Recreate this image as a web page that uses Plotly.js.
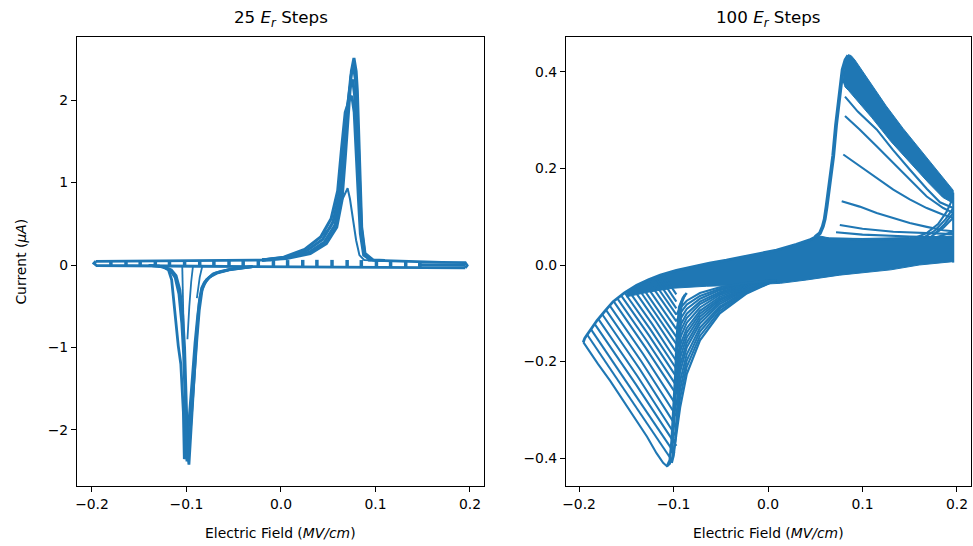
<!DOCTYPE html>
<html>
<head>
<meta charset="utf-8">
<script src="https://cdn.plot.ly/plotly-3.0.1.min.js"></script>
<style>html,body{margin:0;padding:0;background:#fff;}#chart{width:973px;height:546px;}</style>
</head>
<body>
<div id="chart"></div>
<script>
// ---------- LEFT PANEL (25 E_r steps) ----------
const lTicksX = [-0.2, -0.1, 0.0, 0.1, 0.2];
const lTicksY = [-2, -1, 0, 1, 2];
// forward-sweep baseline (top of band)
const lBaseTopX = [-0.196, -0.16, -0.12, -0.08, -0.04, -0.01];
const lBaseTopY = [0.045, 0.047, 0.049, 0.051, 0.054, 0.060];
// baseline after the oxidation peak, with right end cap
const lPostX = [0.092, 0.11, 0.13, 0.15, 0.17, 0.195, 0.197, 0.195];
const lPostY = [0.060, 0.052, 0.045, 0.038, 0.032, 0.028, -0.005, -0.035];
// reverse-sweep baseline (bottom of band) incl. rounded left end
const lBaseBotX = [0.195, 0.17, 0.15, 0.12, 0.09, 0.06, 0.03, 0.0, -0.03, -0.06, -0.09, -0.12, -0.15, -0.18, -0.195, -0.198, -0.196];
const lBaseBotY = [-0.035, -0.034, -0.032, -0.030, -0.028, -0.026, -0.024, -0.022, -0.020, -0.018, -0.015, -0.012, -0.010, -0.008, -0.006, 0.020, 0.045];
// band is solid near right end
const lBandMidX = [0.145, 0.195];
const lBandMidY = [0.002, -0.004];
// reversal (E_r) separators in the band
const lSepX = [-0.180, -0.164, -0.149, -0.133, -0.118, -0.102, -0.086, -0.071, -0.055, -0.040, -0.024, -0.008, 0.007, 0.023, 0.038, 0.054, 0.070, 0.085, 0.101, 0.116, 0.132, 0.147];
const lSepTopY = [0.046, 0.047, 0.048, 0.049, 0.049, 0.050, 0.050, 0.051, 0.051, 0.053, 0.055, 0.058, 0.060, 0.062, 0.063, 0.062, 0.061, 0.060, 0.054, 0.050, 0.046, 0.040];
const lSepBotY = [-0.008, -0.009, -0.010, -0.011, -0.012, -0.014, -0.015, -0.017, -0.018, -0.019, -0.020, -0.021, -0.022, -0.023, -0.024, -0.025, -0.026, -0.027, -0.028, -0.029, -0.030, -0.031];
// oxidation peaks
const lPeakX = [
  [-0.020, 0.006, 0.031, 0.048, 0.059, 0.0645, 0.068, 0.0715, 0.0745, 0.0772, 0.0795, 0.0808, 0.0825, 0.0836, 0.0854, 0.0889, 0.0977, 0.110],
  [-0.020, 0.005, 0.029, 0.046, 0.057, 0.063, 0.0668, 0.0705, 0.0738, 0.0765, 0.0788, 0.0800, 0.0818, 0.0830, 0.0850, 0.0885, 0.096],
  [-0.020, 0.004, 0.027, 0.044, 0.055, 0.0615, 0.0655, 0.0695, 0.0730, 0.0758, 0.0780, 0.0795, 0.0810, 0.0825, 0.0845, 0.0880, 0.095],
  [-0.020, 0.003, 0.025, 0.042, 0.053, 0.060, 0.064, 0.068, 0.0722, 0.0750, 0.0775, 0.0790, 0.0805, 0.0820, 0.0840, 0.0875, 0.095],
  [0.040, 0.052, 0.061, 0.068, 0.0705, 0.073, 0.076, 0.0795, 0.083, 0.088, 0.110]
];
const lPeakY = [
  [0.060, 0.080, 0.140, 0.260, 0.460, 0.780, 1.300, 1.910, 2.350, 2.510, 2.350, 2.110, 1.600, 1.100, 0.460, 0.140, 0.060, 0.055],
  [0.060, 0.085, 0.150, 0.280, 0.480, 0.800, 1.300, 1.900, 2.280, 2.420, 2.250, 2.000, 1.500, 1.050, 0.450, 0.140, 0.060],
  [0.060, 0.090, 0.170, 0.310, 0.520, 0.850, 1.350, 1.850, 2.150, 2.250, 2.050, 1.800, 1.350, 0.950, 0.420, 0.130, 0.060],
  [0.060, 0.095, 0.190, 0.340, 0.560, 0.900, 1.400, 1.850, 2.000, 2.050, 1.850, 1.550, 1.150, 0.800, 0.380, 0.120, 0.060],
  [0.320, 0.450, 0.700, 0.880, 0.930, 0.800, 0.550, 0.300, 0.120, 0.060, 0.055]
];
// reduction peaks
const lValleyX = [
  [-0.030, -0.050, -0.0645, -0.072, -0.077, -0.081, -0.084, -0.0865, -0.089, -0.091, -0.093, -0.0945, -0.0962, -0.0974, -0.0985, -0.0995, -0.1005, -0.102, -0.104, -0.107, -0.111, -0.116, -0.125, -0.140],
  [-0.030, -0.055, -0.068, -0.076, -0.082, -0.0855, -0.088, -0.091, -0.094, -0.097, -0.0995, -0.1012, -0.1023, -0.1033, -0.105, -0.106, -0.1087, -0.112, -0.1157, -0.119, -0.125, -0.140],
  [-0.030, -0.055, -0.070, -0.079, -0.0835, -0.0865, -0.089, -0.092, -0.095, -0.0975, -0.0995, -0.1005, -0.1015, -0.103, -0.105, -0.108, -0.112, -0.118, -0.130],
  [-0.1045, -0.104, -0.1035, -0.103],
  [-0.093, -0.095, -0.097, -0.099],
  [-0.083, -0.086, -0.089]
];
const lValleyY = [
  [-0.020, -0.045, -0.080, -0.110, -0.160, -0.210, -0.280, -0.450, -0.800, -1.180, -1.600, -1.990, -2.300, -2.420, -2.300, -1.950, -1.550, -1.000, -0.600, -0.300, -0.130, -0.060, -0.020, -0.005],
  [-0.020, -0.060, -0.100, -0.150, -0.240, -0.380, -0.600, -0.950, -1.400, -1.850, -2.200, -2.320, -2.350, -1.780, -1.350, -1.200, -0.980, -0.580, -0.180, -0.060, -0.020, -0.005],
  [-0.020, -0.055, -0.100, -0.180, -0.300, -0.550, -0.900, -1.400, -1.900, -2.250, -2.380, -2.100, -1.600, -1.100, -0.700, -0.350, -0.150, -0.050, -0.010],
  [0.000, -0.200, -0.500, -0.800],
  [0.000, -0.200, -0.500, -0.900],
  [0.000, -0.150, -0.400]
];

// ---------- RIGHT PANEL (100 E_r steps) ----------
const rTicksX = [-0.2, -0.1, 0.0, 0.1, 0.2];
const rTicksY = [-0.4, -0.2, 0.0, 0.2, 0.4];
// forward sweep envelope from the leftmost reversal
const rTopX = [-0.1955, -0.194, -0.192, -0.189, -0.186, -0.181, -0.172, -0.164, -0.152, -0.139, -0.126, -0.114, -0.097, -0.079, -0.062, -0.044, -0.020, 0.009, 0.030, 0.044, 0.050, 0.055];
const rTopY = [-0.160, -0.152, -0.146, -0.137, -0.129, -0.115, -0.094, -0.076, -0.058, -0.042, -0.030, -0.021, -0.011, -0.003, 0.004, 0.010, 0.019, 0.031, 0.043, 0.052, 0.058, 0.066];
// steep rise to the oxidation peak
const rRiseX = [0.050, 0.055, 0.058, 0.060, 0.062, 0.066, 0.069, 0.072, 0.076, 0.079, 0.082, 0.085];
const rRiseY = [0.058, 0.066, 0.080, 0.095, 0.121, 0.175, 0.226, 0.290, 0.365, 0.405, 0.425, 0.434];
// reduction tails (one per reversal field)
const rTailX = [
  [-0.1955, -0.190, -0.180, -0.167, -0.153, -0.139, -0.128, -0.118, -0.111, -0.107, -0.104, -0.102],
  [-0.1915, -0.147, -0.103], [-0.1875, -0.143, -0.099], [-0.1835, -0.140, -0.097], [-0.1795, -0.138, -0.097],
  [-0.1755, -0.136, -0.097], [-0.1715, -0.134, -0.097], [-0.1675, -0.132, -0.097], [-0.1635, -0.130, -0.097],
  [-0.1595, -0.128, -0.097], [-0.1555, -0.126, -0.097], [-0.1515, -0.124, -0.097], [-0.1475, -0.122, -0.097],
  [-0.1435, -0.120, -0.097], [-0.1395, -0.118, -0.097], [-0.1355, -0.116, -0.097], [-0.1315, -0.114, -0.097],
  [-0.1275, -0.112, -0.097], [-0.1235, -0.110, -0.097], [-0.1195, -0.108, -0.097], [-0.1155, -0.106, -0.097],
  [-0.1115, -0.104, -0.097]
];
const rTailY = [
  [-0.160, -0.176, -0.205, -0.240, -0.282, -0.323, -0.356, -0.390, -0.410, -0.417, -0.412, -0.400],
  [-0.144, -0.272, -0.401], [-0.133, -0.261, -0.390], [-0.122, -0.247, -0.375], [-0.112, -0.231, -0.356],
  [-0.102, -0.215, -0.335], [-0.093, -0.200, -0.313], [-0.084, -0.185, -0.291], [-0.075, -0.170, -0.268],
  [-0.069, -0.158, -0.250], [-0.063, -0.146, -0.232], [-0.058, -0.135, -0.215], [-0.053, -0.124, -0.199],
  [-0.047, -0.113, -0.181], [-0.042, -0.103, -0.164], [-0.039, -0.095, -0.149], [-0.035, -0.086, -0.133],
  [-0.031, -0.076, -0.117], [-0.028, -0.067, -0.103], [-0.025, -0.058, -0.090], [-0.022, -0.049, -0.076],
  [-0.019, -0.040, -0.061]
];
// reverse-sweep approaches to the reduction peak
const rAppX = [0.009, -0.0225, -0.051, -0.072, -0.086, -0.093, -0.097];
const rEnvX = [0.009, -0.0225, -0.051, -0.072, -0.086, -0.093, -0.098, -0.102, -0.107];
const rEnvY = [-0.031, -0.059, -0.100, -0.156, -0.226, -0.295, -0.365, -0.406, -0.417];
const rAppY = [
  [-0.031, -0.057, -0.095, -0.147, -0.211, -0.275, -0.335],
  [-0.031, -0.055, -0.090, -0.138, -0.198, -0.257, -0.313],
  [-0.031, -0.053, -0.086, -0.130, -0.185, -0.240, -0.291],
  [-0.031, -0.051, -0.081, -0.121, -0.171, -0.221, -0.268],
  [-0.031, -0.050, -0.077, -0.114, -0.161, -0.207, -0.250],
  [-0.031, -0.048, -0.073, -0.107, -0.150, -0.192, -0.232],
  [-0.031, -0.047, -0.070, -0.101, -0.140, -0.179, -0.215],
  [-0.031, -0.045, -0.066, -0.095, -0.131, -0.166, -0.199],
  [-0.031, -0.044, -0.062, -0.088, -0.120, -0.151, -0.181],
  [-0.031, -0.042, -0.059, -0.081, -0.110, -0.138, -0.164],
  [-0.031, -0.041, -0.056, -0.076, -0.101, -0.126, -0.149],
  [-0.031, -0.040, -0.052, -0.070, -0.091, -0.113, -0.133],
  [-0.031, -0.038, -0.049, -0.064, -0.082, -0.100, -0.117],
  [-0.031, -0.037, -0.046, -0.058, -0.074, -0.089, -0.103]
];
// the near-vertical "wall" at the reduction peak
const rWallX = [
  [-0.086, -0.090, -0.094, -0.0965, -0.098, -0.100, -0.102, -0.104, -0.107],
  [-0.088, -0.092, -0.093, -0.094, -0.096, -0.098, -0.100, -0.102],
  [-0.091, -0.095, -0.097, -0.098, -0.100, -0.102]
];
const rWallY = [
  [-0.058, -0.068, -0.087, -0.150, -0.226, -0.300, -0.365, -0.405, -0.417],
  [-0.062, -0.080, -0.150, -0.230, -0.300, -0.360, -0.395, -0.410],
  [-0.075, -0.120, -0.200, -0.280, -0.340, -0.390]
];
// dense overlapping band through the middle
const rMidX = [-0.150, -0.139, -0.126, -0.114, -0.097, -0.079, -0.062, -0.044, -0.020, 0.009, 0.030, 0.044, 0.055, 0.065, 0.100, 0.150, 0.195, 0.196, 0.160, 0.130, 0.076, 0.041, 0.013, -0.030, -0.065, -0.100, -0.126, -0.150];
const rMidY = [-0.058, -0.042, -0.030, -0.021, -0.011, -0.003, 0.004, 0.010, 0.019, 0.031, 0.043, 0.052, 0.060, 0.056, 0.055, 0.057, 0.060, 0.007, 0.000, -0.010, -0.021, -0.031, -0.038, -0.042, -0.044, -0.048, -0.056, -0.066];
// dense band of oxidation-peak decays
const rPeakX = [0.079, 0.082, 0.085, 0.088, 0.092, 0.100, 0.110, 0.125, 0.143, 0.160, 0.178, 0.190, 0.196, 0.196, 0.185, 0.170, 0.150, 0.130, 0.110, 0.095, 0.085, 0.081];
const rPeakY = [0.380, 0.425, 0.436, 0.434, 0.425, 0.402, 0.372, 0.330, 0.283, 0.242, 0.200, 0.170, 0.155, 0.128, 0.140, 0.170, 0.212, 0.256, 0.305, 0.340, 0.362, 0.370];
// individual decays below the dense band
const rDecayX = [
  [0.0815, 0.095, 0.115, 0.132, 0.150, 0.168, 0.182, 0.196],
  [0.0815, 0.097, 0.115, 0.1326, 0.150, 0.168, 0.1855, 0.196],
  [0.0797, 0.097, 0.115, 0.1326, 0.150, 0.168, 0.1855, 0.196],
  [0.078, 0.097, 0.115, 0.1326, 0.150, 0.168, 0.1855, 0.196],
  [0.076, 0.100, 0.1326, 0.168, 0.196],
  [0.072, 0.100, 0.150, 0.196],
  [0.062, 0.100, 0.133, 0.196]
];
const rDecayY = [
  [0.349, 0.318, 0.281, 0.239, 0.198, 0.158, 0.130, 0.118],
  [0.309, 0.281, 0.246, 0.212, 0.177, 0.142, 0.118, 0.108],
  [0.229, 0.205, 0.180, 0.156, 0.136, 0.118, 0.104, 0.098],
  [0.132, 0.121, 0.108, 0.097, 0.087, 0.079, 0.072, 0.070],
  [0.083, 0.075, 0.069, 0.066, 0.064],
  [0.068, 0.063, 0.059, 0.057],
  [0.055, 0.053, 0.052, 0.052]
];
// start of reverse sweeps at the right end
const rHookX = [
  [0.196, 0.189, 0.180, 0.168, 0.155],
  [0.196, 0.188, 0.177, 0.165],
  [0.196, 0.187, 0.175],
  [0.196, 0.186, 0.172],
  [0.196, 0.186, 0.175],
  [0.196, 0.196]
];
const rHookY = [
  [0.140, 0.110, 0.085, 0.066, 0.056],
  [0.118, 0.095, 0.072, 0.057],
  [0.108, 0.085, 0.062],
  [0.098, 0.078, 0.058],
  [0.070, 0.062, 0.056],
  [0.005, 0.150]
];

// ---------- build traces ----------
const BLUE = '#1f77b4';
const traces = [];
function addLine(x, y, ax, w) {
  traces.push({type: 'scatter', mode: 'lines', x: x, y: y, xaxis: ax[0], yaxis: ax[1],
    line: {color: BLUE, width: w}, hoverinfo: 'skip'});
}
function addFill(x, y, ax) {
  traces.push({type: 'scatter', mode: 'lines', x: x, y: y, xaxis: ax[0], yaxis: ax[1],
    fill: 'toself', fillcolor: BLUE, line: {color: BLUE, width: 1}, hoverinfo: 'skip'});
}
const L = ['x', 'y'], R = ['x2', 'y2'];
const LW = 3.0;
addLine(lBaseTopX, lBaseTopY, L, 2.8);
addLine(lPostX, lPostY, L, 2.8);
addLine(lBaseBotX, lBaseBotY, L, 2.8);
addLine(lBandMidX, lBandMidY, L, 3);
{
  const sx = [], sy = [];
  lSepX.forEach((x, i) => { sx.push(x, x, null); sy.push(lSepTopY[i], lSepBotY[i], null); });
  addLine(sx, sy, L, 3.5);
}
lPeakX.forEach((x, i) => addLine(x, lPeakY[i], L, i === 4 ? 2.0 : LW));
lValleyX.forEach((x, i) => addLine(x, lValleyY[i], L, i >= 3 ? 1.8 : 2.8));

const RW = 2.1;
addFill(rMidX, rMidY, R);
addFill(rPeakX, rPeakY, R);
addLine(rTopX, rTopY, R, 2.8);
addLine(rRiseX, rRiseY, R, 3.8);
rTailX.forEach((x, i) => addLine(x, rTailY[i], R, RW));
addLine(rEnvX, rEnvY, R, 2.2);
rAppY.forEach((y) => addLine(rAppX, y, R, RW));
rWallX.forEach((x, i) => addLine(x, rWallY[i], R, 2.6));
rDecayX.forEach((x, i) => addLine(x, rDecayY[i], R, RW));
rHookX.forEach((x, i) => addLine(x, rHookY[i], R, RW));

const FONT = 'DejaVu Sans';
function axisBase(extra) {
  return Object.assign({
    ticks: 'outside', ticklen: 5, tickwidth: 1, tickcolor: '#000',
    showline: true, linecolor: '#000', linewidth: 1, mirror: true,
    showgrid: false, zeroline: false, tickfont: {family: FONT, size: 13.9, color: '#000'},
    tickmode: 'array', fixedrange: true
  }, extra);
}
const layout = {
  width: 973, height: 546,
  margin: {l: 0, r: 0, t: 0, b: 0},
  paper_bgcolor: '#fff', plot_bgcolor: '#fff',
  showlegend: false,
  font: {family: FONT, size: 13.9, color: '#000'},
  xaxis: axisBase({domain: [0.0791, 0.4974], range: [-0.2159, 0.2148], tickvals: lTicksX, tickformat: '.1f', anchor: 'y'}),
  yaxis: axisBase({domain: [0.1099, 0.9322], range: [-2.679, 2.764], tickvals: lTicksY, anchor: 'x'}),
  xaxis2: axisBase({domain: [0.5817, 0.9979], range: [-0.2138, 0.2148], tickvals: rTicksX, tickformat: '.1f', anchor: 'y2'}),
  yaxis2: axisBase({domain: [0.1099, 0.9322], range: [-0.458, 0.4725], tickvals: rTicksY, tickformat: '.1f', anchor: 'x2'}),
  annotations: [
    {text: '25 <i>E</i><sub><i>r</i></sub> Steps', xref: 'paper', yref: 'paper', x: 0.2883, y: 0.967,
     xanchor: 'center', yanchor: 'middle', showarrow: false, font: {family: FONT, size: 16.7, color: '#000'}},
    {text: '100 <i>E</i><sub><i>r</i></sub> Steps', xref: 'paper', yref: 'paper', x: 0.7898, y: 0.967,
     xanchor: 'center', yanchor: 'middle', showarrow: false, font: {family: FONT, size: 16.7, color: '#000'}},
    {text: 'Electric Field (<i>MV/cm</i>)', xref: 'paper', yref: 'paper', x: 0.2883, y: 0.0238,
     xanchor: 'center', yanchor: 'middle', showarrow: false, font: {family: FONT, size: 13.9, color: '#000'}},
    {text: 'Electric Field (<i>MV/cm</i>)', xref: 'paper', yref: 'paper', x: 0.7898, y: 0.0238,
     xanchor: 'center', yanchor: 'middle', showarrow: false, font: {family: FONT, size: 13.9, color: '#000'}},
    {text: 'Current (<i>μA</i>)', xref: 'paper', yref: 'paper', x: 0.0206, y: 0.521, textangle: -90,
     xanchor: 'center', yanchor: 'middle', showarrow: false, font: {family: FONT, size: 13.9, color: '#000'}}
  ]
};
Plotly.newPlot('chart', traces, layout, {staticPlot: true, displayModeBar: false});
</script>
</body>
</html>
